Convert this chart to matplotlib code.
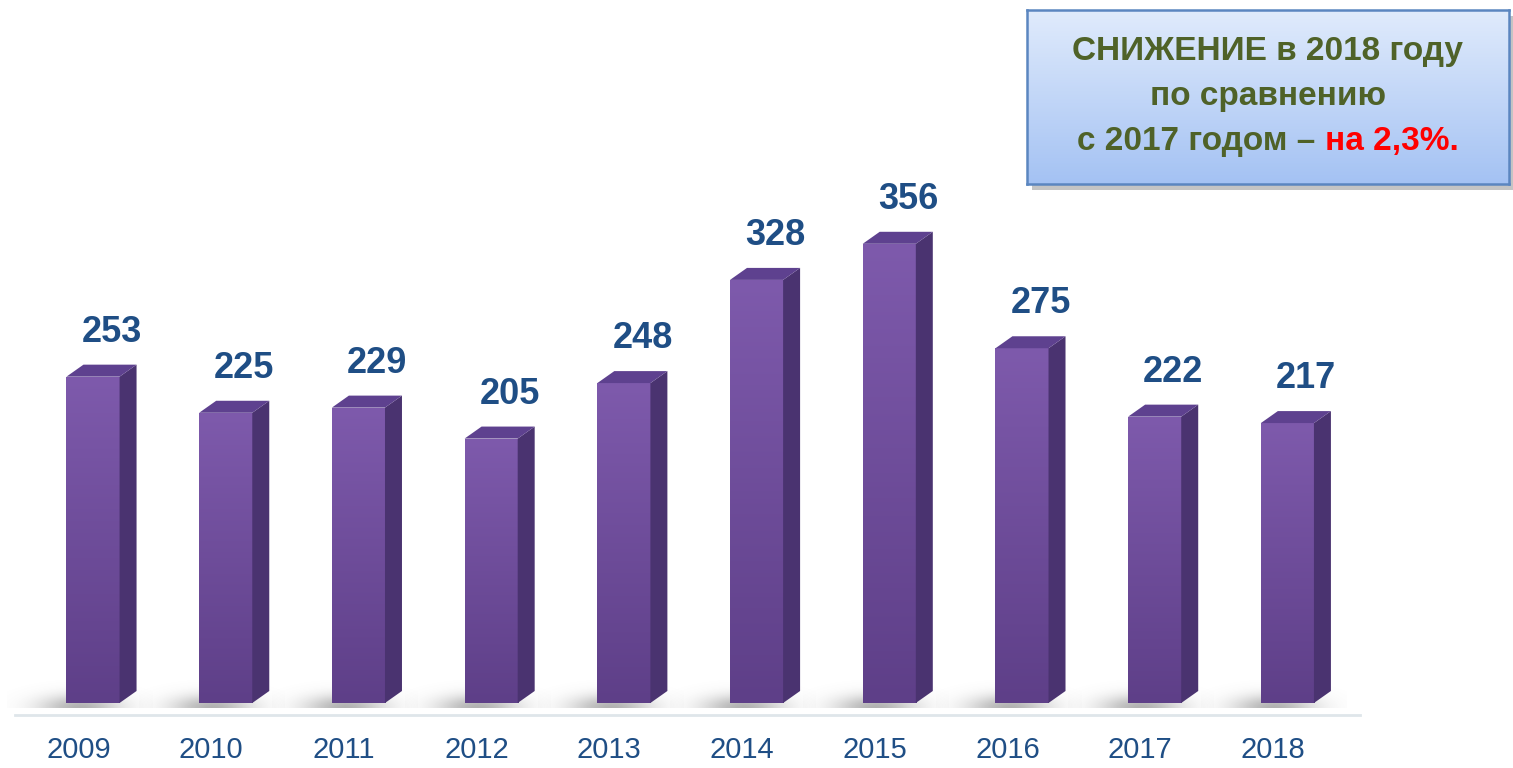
import numpy as np
import matplotlib
matplotlib.use('Agg')
import matplotlib.pyplot as plt
from matplotlib.patches import Polygon
from matplotlib import font_manager

years = ['2009', '2010', '2011', '2012', '2013', '2014', '2015', '2016', '2017', '2018']
values = [253, 225, 229, 205, 248, 328, 356, 275, 222, 217]
box_lines = ['СНИЖЕНИЕ в 2018 году', 'по сравнению']
box_last = ['с 2017 годом – ', 'на 2,3%.']

names = {f.name for f in font_manager.fontManager.ttflist}
narrow = 'Liberation Sans Narrow' if 'Liberation Sans Narrow' in names else 'Liberation Sans'

BAR_W = 0.40
DX, DY = 0.128, 9.3
FRONT_TOP = np.array([126, 90, 172]) / 255
FRONT_BOT = np.array([94, 63, 136]) / 255
SIDE = '#4a3370'
TOP = '#5e418f'
LABEL_C = '#1f4e85'

fig = plt.figure(figsize=(15.13, 7.68), dpi=100)
ax = fig.add_axes([0, 0, 1, 1])
ax.set_xlim(-0.701, 10.70)
ax.set_ylim(-50.4, 545)
ax.axis('off')

# base line
ax.plot([-0.59, 9.55], [-9.3, -9.3], color='#dfe6ea', lw=2, zorder=1)

x = np.arange(len(values))
grad = np.linspace(0, 1, 256)[:, None, None]
grad_img = FRONT_BOT * (1 - grad) + FRONT_TOP * grad

# soft shadow profile (used for each bar base)
sx = np.linspace(-1, 1, 120)
sy = np.linspace(0, 1, 40)
SX, SY = np.meshgrid(sx, sy)
alpha = 0.55 * np.exp(-(SX / 0.55) ** 2) * np.exp(-(SY / 0.45) ** 2)
shadow_img = np.zeros((40, 120, 4))
shadow_img[..., :3] = 0.45
shadow_img[..., 3] = alpha

for i, v in zip(x, values):
    left = i - BAR_W / 2
    right = i + BAR_W / 2
    ax.imshow(shadow_img, extent=[left - 0.45, right + 0.25, -4, 18], origin='lower',
              aspect='auto', zorder=2, interpolation='bilinear')
    bars = ax.bar(i, v, width=BAR_W, color='none', edgecolor='none', zorder=3)
    rect = bars[0]
    im = ax.imshow(grad_img, extent=[left, right, 0, v], origin='lower', aspect='auto', zorder=3)
    im.set_clip_path(rect)
    ax.add_patch(Polygon([(right, 0), (right + DX, DY), (right + DX, v + DY), (right, v)],
                         closed=True, facecolor=SIDE, edgecolor='none', zorder=3))
    ax.add_patch(Polygon([(left, v), (left + DX, v + DY), (right + DX, v + DY), (right, v)],
                         closed=True, facecolor=TOP, edgecolor='none', zorder=3))
    ax.text(i + 0.14, v + 27, str(v), ha='center', va='baseline', color=LABEL_C,
            fontsize=26, fontweight='bold', family=narrow, zorder=4)
    ax.text(i - 0.11, -36.4, years[i], ha='center', va='center', color=LABEL_C,
            fontsize=21, family=narrow, zorder=4)

ax.set_xlim(-0.701, 10.70)
ax.set_ylim(-50.4, 545)

# callout box
W, H = 1513, 768
bx0, by0, bx1, by1 = 1027, 10, 1509, 184
sh = fig.add_axes([(bx0 + 5) / W, 1 - (by1 + 6) / H, (bx1 - bx0) / W, (by1 - by0) / H])
sh.set_xticks([]); sh.set_yticks([])
sh.set_facecolor('#c4c4c4')
for s in sh.spines.values():
    s.set_visible(False)
box = fig.add_axes([bx0 / W, 1 - by1 / H, (bx1 - bx0) / W, (by1 - by0) / H])
top_c = np.array([224, 235, 252]) / 255
bot_c = np.array([164, 194, 243]) / 255
g = np.linspace(0, 1, 256)[:, None, None]
box.imshow(top_c * (1 - g) + bot_c * g, extent=[0, 1, 0, 1], aspect='auto', origin='upper')
box.set_xlim(0, 1); box.set_ylim(0, 1)
box.set_xticks([]); box.set_yticks([])
for s in box.spines.values():
    s.set_color('#5b86c0')
    s.set_linewidth(1.8)

GREEN = '#4f6228'
FS = 24
box.text(0.5, 0.76, box_lines[0], ha='center', va='center', color=GREEN,
         fontsize=FS, fontweight='bold', family=narrow, transform=box.transAxes)
box.text(0.5, 0.50, box_lines[1], ha='center', va='center', color=GREEN,
         fontsize=FS, fontweight='bold', family=narrow, transform=box.transAxes)
t1 = box.text(0.5, 0.245, box_last[0], ha='center', va='center', color=GREEN,
              fontsize=FS, fontweight='bold', family=narrow, transform=box.transAxes)
t2 = box.text(0.5, 0.245, box_last[1], ha='center', va='center', color='#ff0000',
              fontsize=FS, fontweight='bold', family=narrow, transform=box.transAxes)
fig.canvas.draw()
r = fig.canvas.get_renderer()
w1 = t1.get_window_extent(r).width
w2 = t2.get_window_extent(r).width
bw = box.get_window_extent(r).width
total = (w1 + w2) / bw
start = 0.5 - total / 2
t1.set_ha('left'); t1.set_x(start)
t2.set_ha('left'); t2.set_x(start + w1 / bw)

fig.savefig('out.png', dpi=100, facecolor='white')
